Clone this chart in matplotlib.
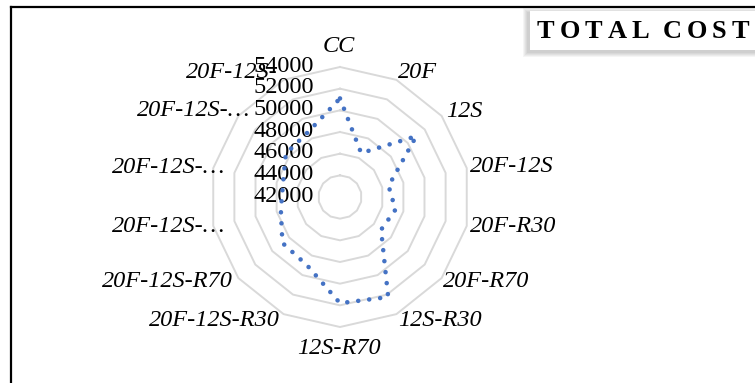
import numpy as np
import matplotlib
matplotlib.use("Agg")
import matplotlib.pyplot as plt
from matplotlib.patches import Rectangle
from matplotlib.lines import Line2D

# ---- data ----
categories = ["CC", "20F", "12S", "20F-12S", "20F-R30", "20F-R70", "12S-R30",
              "12S-R70", "20F-12S-R30", "20F-12S-R70", "20F-12S-…",
              "20F-12S-…", "20F-12S-…", "20F-12S-"]
total_cost = [51100, 46500, 51000, 46600, 47250, 46850, 52250,
              51800, 49000, 48800, 47600, 47400, 48400, 48700]
radial_ticks = [42000, 44000, 46000, 48000, 50000, 52000, 54000]
title = "TOTAL COST"

W, H = 755, 383
fig = plt.figure(figsize=(W / 100, H / 100), dpi=100)
fig.patch.set_facecolor("white")

# radar axes (centre and radius in pixels)
cx, cy, R = 340, 197, 130
ax = fig.add_axes([(cx - R) / W, (H - cy - R) / H, 2 * R / W, 2 * R / H],
                  projection="polar")
ax.set_theta_offset(np.pi / 2)
ax.set_theta_direction(-1)
ax.set_ylim(radial_ticks[0], radial_ticks[-1])
ax.grid(False)
ax.set_xticks([])
ax.set_yticks([])
ax.spines["polar"].set_visible(False)
ax.patch.set_alpha(0)

n = len(categories)
theta = np.linspace(0, 2 * np.pi, n, endpoint=False)
theta_c = np.append(theta, theta[0])

# polygonal gridlines
for v in radial_ticks[1:]:
    ax.plot(theta_c, [v] * (n + 1), color="#d9d9d9", lw=1.4, zorder=1,
            clip_on=False)

# series
vals = np.append(total_cost, total_cost[0])
ax.plot(theta_c, vals, color="#4472C4", lw=3.3, linestyle=(0, (0.01, 2.4)),
        dash_capstyle="round", zorder=4, clip_on=False)

serif = "Liberation Serif"

# radial tick labels
for v in radial_ticks:
    ax.annotate(f"{v}", xy=(0, v), xytext=(-26, 1), textcoords="offset pixels",
                ha="right", va="center", fontsize=17.5, family=serif,
                annotation_clip=False, zorder=3)

# category labels
label_pos = [
    ((-1, 21), "center"), ((2, 7), "left"), ((5, 4), "left"), ((3, 2), "left"),
    ((3, -1), "left"), ((1, -3), "left"), ((2, -6), "left"),
    ((-1, -21), "center"), ((-4, -6), "right"), ((-6, -3), "right"),
    ((12, -1), "right"), ((12, 1), "right"), ((12, 5), "right"),
    ((-6, 7), "right"),
]
for t, lab, (off, ha) in zip(theta, categories, label_pos):
    ax.annotate(lab, xy=(t, radial_ticks[-1]), xytext=off,
                textcoords="offset pixels", ha=ha, va="center", fontsize=17.5,
                family=serif, style="italic", annotation_clip=False, zorder=2)

# outer frame (left and top edges)
lx, ty = 10.5 / W, 1 - 6.5 / H
fig.add_artist(Line2D([lx, lx], [0, ty], color="black", lw=1.6,
                      transform=fig.transFigure))
fig.add_artist(Line2D([lx, 1], [ty, ty], color="black", lw=1.6,
                      transform=fig.transFigure))

# title box with soft shadow
bx0, by_top, by_bot = 530, 11, 50
for k in range(5, 0, -1):
    fig.add_artist(Rectangle(((bx0 - 2 - k) / W, (H - by_bot - 2 - k) / H),
                             (260 + 2 * k) / W, (by_bot - by_top + 2 * k) / H,
                             transform=fig.transFigure, facecolor="black",
                             edgecolor="none", alpha=0.04))
fig.add_artist(Rectangle((bx0 / W, (H - by_bot) / H), 260 / W,
                         (by_bot - by_top) / H, transform=fig.transFigure,
                         facecolor="white", edgecolor="none"))

renderer = fig.canvas.get_renderer()
x = 537
gap, space = 5.0, 8.0
for ch in title:
    if ch == " ":
        x += space
        continue
    t = fig.text(x / W, (H - 38) / H, ch, fontsize=19, family=serif,
                 weight="bold", ha="left", va="baseline", color="black")
    bb = t.get_window_extent(renderer=renderer)
    x = bb.x1 + gap

fig.savefig("out.png", dpi=100, facecolor="white")
